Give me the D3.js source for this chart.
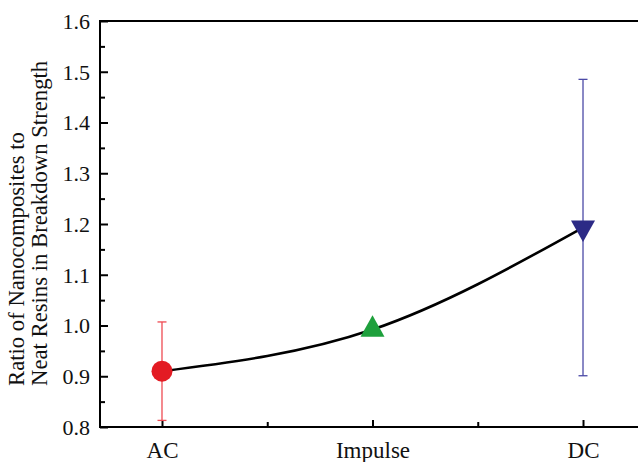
<!DOCTYPE html>
<html>
<head>
<meta charset="utf-8">
<script src="https://cdn.jsdelivr.net/npm/d3@7"></script>
<style>
  html, body { margin: 0; padding: 0; background: #fff; }
  svg { display: block; }
</style>
</head>
<body>
<svg id="chart" width="638" height="462"></svg>
<script>
// Breakdown strength ratio by voltage type
const categories = ["AC", "Impulse", "DC"];
const ratios = [0.91, 0.992, 1.193];
const errors = [0.097, 0, 0.292];
const markerShapes = ["circle", "triangleUp", "triangleDown"];
const markerColors = ["#e31b23", "#1ea03c", "#2c2a86"];
const errorColors = ["#ee4a52", "#1ea03c", "#4b49a6"];
const yTicks = [0.8, 0.9, 1.0, 1.1, 1.2, 1.3, 1.4, 1.5, 1.6];
const yLabelLines = ["Ratio of Nanocomposites to", "Neat Resins in Breakdown Strength"];

const svg = d3.select("#chart");
const plotLeft = 100, plotTop = 21, plotBottom = 427, plotRight = 645;
const serif = "'Liberation Serif', 'Times New Roman', serif";

const x = d3.scaleLinear().domain([-0.2945, 2.2945]).range([plotLeft, plotRight]);
const y = d3.scaleLinear().domain([0.8, 1.6]).range([plotBottom, plotTop]);

// Y axis: labelled major ticks and minor ticks in between, pointing inward
const yMinor = d3.range(0.85, 1.6, 0.1);
svg.append("g")
  .attr("transform", `translate(${plotLeft},0)`)
  .call(d3.axisRight(y).tickValues(yMinor).tickSize(5).tickFormat(""))
  .call(g => g.select(".domain").remove())
  .call(g => g.selectAll("line").attr("stroke", "#000").attr("stroke-width", 2));
const yAxis = svg.append("g")
  .attr("transform", `translate(${plotLeft},0)`)
  .call(d3.axisRight(y).tickValues(yTicks).tickSize(8).tickFormat(d3.format(".1f")))
  .attr("font-family", serif).attr("font-size", 22);
yAxis.select(".domain").remove();
yAxis.selectAll("line").attr("stroke", "#000").attr("stroke-width", 2);
yAxis.selectAll("text")
  .attr("x", -10).attr("dy", "0.34em")
  .attr("text-anchor", "end")
  .attr("fill", "#111");

// X axis: category ticks and minor ticks at midpoints, pointing up
svg.append("g")
  .attr("transform", `translate(0,${plotBottom})`)
  .call(d3.axisTop(x).tickValues([0.5, 1.5]).tickSize(5).tickFormat(""))
  .call(g => g.select(".domain").remove())
  .call(g => g.selectAll("line").attr("stroke", "#000").attr("stroke-width", 2));
const xAxis = svg.append("g")
  .attr("transform", `translate(0,${plotBottom})`)
  .call(d3.axisTop(x).tickValues([0, 1, 2]).tickSize(7).tickFormat(i => categories[i]))
  .attr("font-family", serif).attr("font-size", 23);
xAxis.select(".domain").remove();
xAxis.selectAll("line").attr("stroke", "#000").attr("stroke-width", 2);
xAxis.selectAll("text")
  .attr("y", 30.5).attr("dy", 0)
  .attr("fill", "#111");

// Frame: left, bottom and top lines
svg.append("line").attr("x1", plotLeft).attr("x2", plotLeft).attr("y1", plotTop - 1).attr("y2", plotBottom + 1)
  .attr("stroke", "#000").attr("stroke-width", 2);
svg.append("line").attr("x1", plotLeft - 1).attr("x2", 638).attr("y1", plotBottom).attr("y2", plotBottom)
  .attr("stroke", "#000").attr("stroke-width", 2);
svg.append("line").attr("x1", plotLeft - 1).attr("x2", 638).attr("y1", plotTop).attr("y2", plotTop)
  .attr("stroke", "#000").attr("stroke-width", 2);

// Y axis title, two lines rotated, starting from the same point
const yTitle = svg.append("text")
  .attr("transform", "translate(23.5,386) rotate(-90)")
  .attr("text-anchor", "start")
  .attr("font-family", serif)
  .attr("font-size", 22.7)
  .attr("fill", "#111");
yLabelLines.forEach((line, i) => {
  yTitle.append("tspan").attr("x", 0).attr("dy", i === 0 ? 0 : 23).text(line);
});

// Error bars
const pts = categories.map((c, i) => ({ i, v: ratios[i], e: errors[i] }));
const eb = svg.append("g");
pts.filter(d => d.e > 0).forEach(d => {
  const cx = x(d.i);
  const g = eb.append("g").attr("stroke", errorColors[d.i]).attr("stroke-width", 1.3);
  g.append("line").attr("x1", cx).attr("x2", cx).attr("y1", y(d.v - d.e)).attr("y2", y(d.v + d.e));
  [d.v - d.e, d.v + d.e].forEach(v => {
    g.append("line").attr("x1", cx - 4.5).attr("x2", cx + 4.5).attr("y1", y(v)).attr("y2", y(v));
  });
});

// Smooth connecting curve
const line = d3.line().x(d => x(d.i)).y(d => y(d.v)).curve(d3.curveNatural);
svg.append("path").datum(pts).attr("d", line)
  .attr("fill", "none").attr("stroke", "#000").attr("stroke-width", 2.6);

// Markers (triangles positioned by their centroid)
pts.forEach(d => {
  const cx = x(d.i), cy = y(d.v);
  const shape = markerShapes[d.i];
  const col = markerColors[d.i];
  if (shape === "circle") {
    svg.append("circle").attr("cx", cx).attr("cy", cy).attr("r", 10.5).attr("fill", col);
  } else {
    const w = 12, H = 21.5;
    const pts3 = shape === "triangleUp"
      ? [[cx - w, cy + H / 3], [cx + w, cy + H / 3], [cx, cy - 2 * H / 3]]
      : [[cx - w, cy - H / 3], [cx + w, cy - H / 3], [cx, cy + 2 * H / 3]];
    svg.append("polygon").attr("points", pts3.map(p => p.join(",")).join(" ")).attr("fill", col);
  }
});
</script>
</body>
</html>
